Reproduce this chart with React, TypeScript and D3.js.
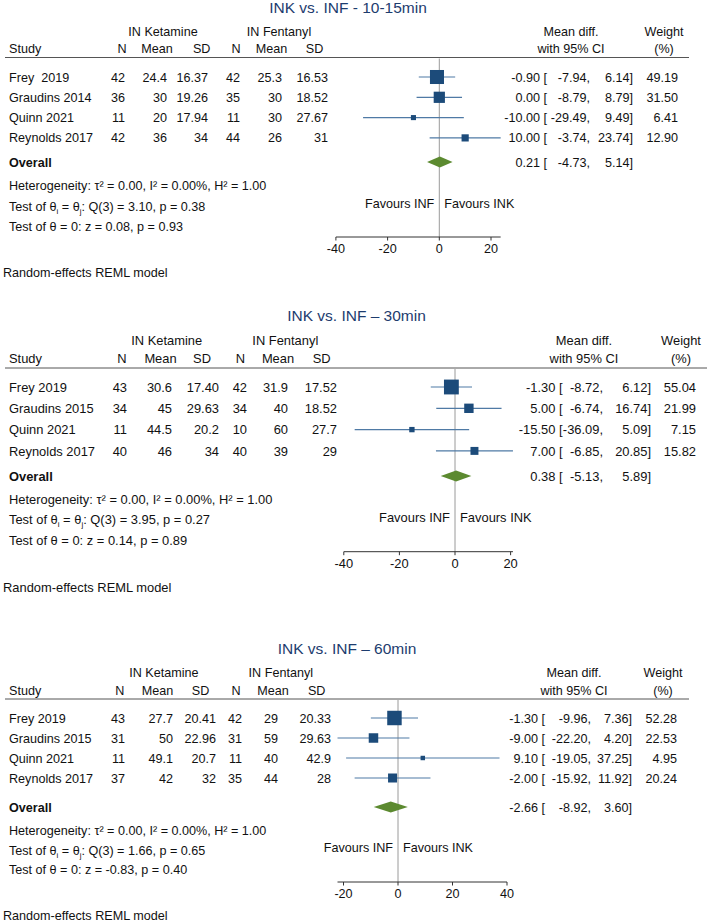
import React, { useEffect, useRef } from "react";
import * as d3 from "d3";

// ---- data: 10-15 min ----
const studies15 = ["Frey  2019", "Graudins 2014", "Quinn 2021", "Reynolds 2017"];
const ketamine15 = [["42", "24.4", "16.37"], ["36", "30", "19.26"], ["11", "20", "17.94"], ["42", "36", "34"]];
const fentanyl15 = [["42", "25.3", "16.53"], ["35", "30", "18.52"], ["11", "30", "27.67"], ["44", "26", "31"]];
// mean diff, lower, upper, weight
const effects15 = [[-0.9, -7.94, 6.14, 49.19], [0.0, -8.79, 8.79, 31.5], [-10.0, -29.49, 9.49, 6.41], [10.0, -3.74, 23.74, 12.9]];
const overall15 = [0.21, -4.73, 5.14];
const tests15 = ["3.10", "0.38", "0.08", "0.93"];
const ticks15 = [-40, -20, 0, 20];

// ---- data: 30 min ----
const studies30 = ["Frey 2019", "Graudins 2015", "Quinn 2021", "Reynolds 2017"];
const ketamine30 = [["43", "30.6", "17.40"], ["34", "45", "29.63"], ["11", "44.5", "20.2"], ["40", "46", "34"]];
const fentanyl30 = [["42", "31.9", "17.52"], ["34", "40", "18.52"], ["10", "60", "27.7"], ["40", "39", "29"]];
const effects30 = [[-1.3, -8.72, 6.12, 55.04], [5.0, -6.74, 16.74, 21.99], [-15.5, -36.09, 5.09, 7.15], [7.0, -6.85, 20.85, 15.82]];
const overall30 = [0.38, -5.13, 5.89];
const tests30 = ["3.95", "0.27", "0.14", "0.89"];
const ticks30 = [-40, -20, 0, 20];

// ---- data: 60 min ----
const studies60 = ["Frey 2019", "Graudins 2015", "Quinn 2021", "Reynolds 2017"];
const ketamine60 = [["43", "27.7", "20.41"], ["31", "50", "22.96"], ["11", "49.1", "20.7"], ["37", "42", "32"]];
const fentanyl60 = [["42", "29", "20.33"], ["31", "59", "29.63"], ["11", "40", "42.9"], ["35", "44", "28"]];
const effects60 = [[-1.3, -9.96, 7.36, 52.28], [-9.0, -22.2, 4.2, 22.53], [9.1, -19.05, 37.25, 4.95], [-2.0, -15.92, 11.92, 20.24]];
const overall60 = [-2.66, -8.92, 3.6];
const tests60 = ["1.66", "0.65", "-0.83", "0.40"];
const ticks60 = [-20, 0, 20, 40];

const titles = ["INK vs. INF - 10-15min", "INK vs. INF \u2013 30min", "INK vs. INF \u2013 60min"];

const FONT = "'Liberation Sans', Arial, Helvetica, sans-serif";
const TITLE_COLOR = "#1d3c6e";
const BOX_COLOR = "#1c4b7a";
const CI_COLOR = "#4f7aa5";
const DIAMOND_COLOR = "#5c8a30";

const panels = [
  {
    title: titles[0], studies: studies15, ket: ketamine15, fen: fentanyl15, eff: effects15, overall: overall15, tests: tests15, ticks: ticks15,
    fs: 12.6, titleX: 348, titleY: 7, groupY: 31, headY: 48, ruleY: 57.5, rowY0: 77, rowStep: 20.3, overallY: 162,
    hetY: 185, test1Y: 206, test2Y: 226.5, favY: 203, axisY: 237, tickY: 248, randomY: 272,
    cols: [125, 167, 208, 240, 282, 328], heads: [122, 157, 201.7, 236, 271.5, 314.5], groups: [163, 279],
    bracket: 547, lo: 590, hi: 633, w: 678, mdHead: 571, wHead: 664, range: [335.9, 491], ruleEnd: 689,
  },
  {
    title: titles[1], studies: studies30, ket: ketamine30, fen: fentanyl30, eff: effects30, overall: overall30, tests: tests30, ticks: ticks30,
    fs: 12.9, titleX: 356.5, titleY: 315, groupY: 340, headY: 358, ruleY: 368, rowY0: 387, rowStep: 21.3, overallY: 476,
    hetY: 499, test1Y: 519, test2Y: 540, favY: 517, axisY: 551.7, tickY: 563, randomY: 587,
    cols: [127, 172, 219, 247, 288, 337], heads: [122, 160.5, 202, 240.5, 278, 321.7], groups: [166.7, 285.3],
    bracket: 562.5, lo: 603, hi: 651, w: 696, mdHead: 584, wHead: 681, range: [343.8, 510.6], ruleEnd: 707,
  },
  {
    title: titles[2], studies: studies60, ket: ketamine60, fen: fentanyl60, eff: effects60, overall: overall60, tests: tests60, ticks: ticks60,
    fs: 12.6, titleX: 347, titleY: 648, groupY: 672, headY: 690, ruleY: 699, rowY0: 718, rowStep: 20, overallY: 807,
    hetY: 830, test1Y: 850, test2Y: 869, favY: 847, axisY: 882, tickY: 893, randomY: 915,
    cols: [125, 173, 216, 242, 278, 331], heads: [119.7, 157.5, 200.5, 236, 273, 316.7], groups: [163.8, 280.8],
    bracket: 545, lo: 591, hi: 632, w: 677, mdHead: 574, wHead: 663, range: [343.5, 507], ruleEnd: 689,
  },
];

const f2 = (v: number) => v.toFixed(2);

const App = () => {
  const ref = useRef<SVGSVGElement>(null);

  useEffect(() => {
    const svg = d3.select(ref.current);
    svg.selectAll("*").remove();
    svg.style("font-family", FONT);

    panels.forEach((p) => {
      const g = svg.append("g").attr("font-size", p.fs).attr("fill", "#111");
      const txt = (x: number, y: number, s: string, anchor = "start") =>
        g.append("text").attr("x", x).attr("y", y + p.fs * 0.36).attr("text-anchor", anchor)
          .attr("xml:space", "preserve").style("white-space", "pre").text(s);

      const x = d3.scaleLinear().domain([p.ticks[0], p.ticks[p.ticks.length - 1]]).range(p.range);

      // title
      g.append("text").attr("x", p.titleX).attr("y", p.titleY + 5.7).attr("text-anchor", "middle")
        .attr("font-size", 15.5).attr("fill", TITLE_COLOR).text(p.title);

      // headers
      txt(p.groups[0], p.groupY, "IN Ketamine", "middle");
      txt(p.groups[1], p.groupY, "IN Fentanyl", "middle");
      txt(9, p.headY, "Study");
      ["N", "Mean", "SD", "N", "Mean", "SD"].forEach((h, i) => txt(p.heads[i], p.headY, h, "middle"));
      txt(p.mdHead, p.groupY, "Mean diff.", "middle");
      txt(p.mdHead, p.headY, "with 95% CI", "middle");
      txt(p.wHead, p.groupY, "Weight", "middle");
      txt(p.wHead, p.headY, "(%)", "middle");
      g.append("line").attr("x1", 5).attr("x2", p.ruleEnd).attr("y1", p.ruleY).attr("y2", p.ruleY)
        .attr("stroke", "#555").attr("stroke-width", 1);

      // zero line
      g.append("line").attr("x1", x(0)).attr("x2", x(0)).attr("y1", p.ruleY + 1).attr("y2", p.axisY)
        .attr("stroke", "#9a9a9a").attr("stroke-width", 1);

      // study rows
      p.studies.forEach((s, i) => {
        const y = p.rowY0 + i * p.rowStep;
        txt(9, y, s);
        [...p.ket[i], ...p.fen[i]].forEach((v, j) => txt(p.cols[j], y, v, "end"));
        const [md, lo, hi, w] = p.eff[i];
        txt(p.bracket, y, `${f2(md)} [`, "end");
        txt(p.lo, y, `${f2(lo)},`, "end");
        txt(p.hi, y, `${f2(hi)}]`, "end");
        txt(p.w, y, f2(w), "end");

        g.append("line").attr("x1", x(lo)).attr("x2", x(hi)).attr("y1", y).attr("y2", y)
          .attr("stroke", CI_COLOR).attr("stroke-width", 1.2);
        const side = 2 * Math.sqrt(w);
        g.append("rect").attr("x", x(md) - side / 2).attr("y", y - side / 2)
          .attr("width", side).attr("height", side).attr("fill", BOX_COLOR);
      });

      // overall
      const [om, olo, ohi] = p.overall;
      txt(9, p.overallY, "Overall").attr("font-weight", "bold");
      txt(p.bracket, p.overallY, `${f2(om)} [`, "end");
      txt(p.lo, p.overallY, `${f2(olo)},`, "end");
      txt(p.hi, p.overallY, `${f2(ohi)}]`, "end");
      const dh = 5.5;
      g.append("path")
        .attr("d", `M${x(olo)},${p.overallY}L${x(om)},${p.overallY - dh}L${x(ohi)},${p.overallY}L${x(om)},${p.overallY + dh}Z`)
        .attr("fill", DIAMOND_COLOR);

      // heterogeneity and tests
      txt(9, p.hetY, "Heterogeneity: \u03c4\u00b2 = 0.00, I\u00b2 = 0.00%, H\u00b2 = 1.00");
      const t1 = txt(9, p.test1Y, "Test of \u03b8");
      t1.append("tspan").attr("font-size", p.fs * 0.62).attr("dy", 3).text("i");
      t1.append("tspan").attr("dy", -3).text(" = \u03b8");
      t1.append("tspan").attr("font-size", p.fs * 0.62).attr("dy", 3).text("j");
      t1.append("tspan").attr("dy", -3).text(`: Q(3) = ${p.tests[0]}, p = ${p.tests[1]}`);
      txt(9, p.test2Y, `Test of \u03b8 = 0: z = ${p.tests[2]}, p = ${p.tests[3]}`);

      // favours
      txt(x(0) - 5, p.favY, "Favours INF", "end");
      txt(x(0) + 5, p.favY, "Favours INK");

      // axis
      const allLo = d3.min(p.eff, (d) => d[1]) as number;
      const allHi = d3.max(p.eff, (d) => d[2]) as number;
      const a0 = Math.min(p.ticks[0], allLo);
      const a1 = Math.max(p.ticks[p.ticks.length - 1], allHi);
      g.append("line").attr("x1", x(a0)).attr("x2", x(a1)).attr("y1", p.axisY).attr("y2", p.axisY)
        .attr("stroke", "#333").attr("stroke-width", 1);
      p.ticks.forEach((t) => {
        g.append("line").attr("x1", x(t)).attr("x2", x(t)).attr("y1", p.axisY).attr("y2", p.axisY + 3.5)
          .attr("stroke", "#333").attr("stroke-width", 1);
        txt(x(t), p.tickY, String(t), "middle");
      });

      txt(3, p.randomY, "Random-effects REML model");
    });
  }, []);

  return (
    <svg ref={ref} width={708} height={922}
      style={{ position: "absolute", left: 0, top: 0, background: "#fff", display: "block" }} />
  );
};

export default App;
